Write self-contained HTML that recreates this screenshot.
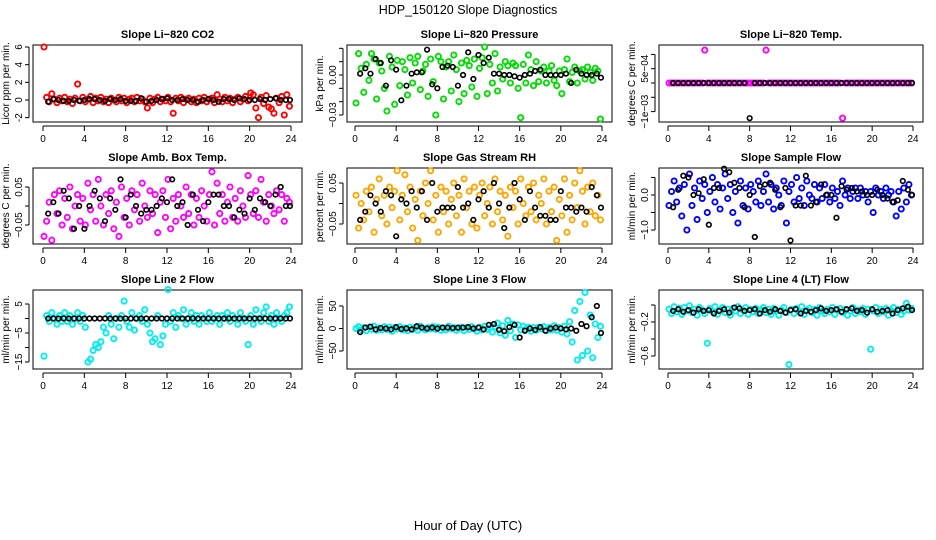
<!DOCTYPE html>
<html><head><meta charset="utf-8"><style>
html,body{margin:0;padding:0;background:#fff}
svg{display:block;font-family:"Liberation Sans",sans-serif}
</style></head><body>
<svg id="chart" width="936" height="540" viewBox="0 0 936 540">
<text x="468" y="14" text-anchor="middle" font-size="12.5">HDP_150120  Slope Diagnostics</text>
<text x="468" y="530" text-anchor="middle" font-size="13">Hour of Day (UTC)</text>
</svg>
<script>
const hoursC=[0.1,0.35,0.6,0.85,1.1,1.35,1.6,1.85,2.1,2.35,2.6,2.85,3.1,3.35,3.6,3.85,4.1,4.35,4.6,4.85,5.1,5.35,5.6,5.85,6.1,6.35,6.6,6.85,7.1,7.35,7.6,7.85,8.1,8.35,8.6,8.85,9.1,9.35,9.6,9.85,10.1,10.35,10.6,10.85,11.1,11.35,11.6,11.85,12.1,12.35,12.6,12.85,13.1,13.35,13.6,13.85,14.1,14.35,14.6,14.85,15.1,15.35,15.6,15.85,16.1,16.35,16.6,16.85,17.1,17.35,17.6,17.85,18.1,18.35,18.6,18.85,19.1,19.35,19.6,19.85,20.1,20.35,20.6,20.85,21.1,21.35,21.6,21.85,22.1,22.35,22.6,22.85,23.1,23.35,23.6,23.85];
const hoursK=[0.5,1,1.5,2,2.5,3,3.5,4,4.5,5,5.5,6,6.5,7,7.5,8,8.5,9,9.5,10,10.5,11,11.5,12,12.5,13,13.5,14,14.5,15,15.5,16,16.5,17,17.5,18,18.5,19,19.5,20,20.5,21,21.5,22,22.5,23,23.5,23.9];
const xTicks=[0,4,8,12,16,20,24];

const co2C=[6.0,0.3,-0.2,0.7,0.1,-0.3,0.2,-0.1,0.3,-0.2,0.1,-0.4,0.2,1.8,-0.1,0.3,-0.2,0.1,0.4,-0.3,0.2,-0.1,0.3,-0.2,0.1,-0.3,0.2,0.0,-0.2,0.3,-0.1,0.2,-0.3,0.1,0.2,-0.2,0.3,-0.1,0.1,-0.2,-0.9,0.2,-0.3,0.1,0.3,-0.2,0.1,-0.1,0.3,-0.2,-1.5,0.2,-0.1,0.3,-0.3,0.1,0.2,-0.2,0.1,-0.3,0.2,-0.1,0.3,-0.2,0.1,0.2,-0.3,0.6,0.1,-0.2,0.3,-0.1,0.2,-0.3,0.1,0.3,-0.2,0.1,0.4,-0.1,0.8,0.6,-0.9,-2.0,0.3,-0.4,0.5,-0.8,-1.0,-1.5,0.2,-0.3,0.4,-1.7,0.6,-0.7];
const co2K=[-0.2,0.1,0.0,-0.1,-0.1,0.0,-0.1,0.0,0.1,0.1,0.0,-0.1,0.1,0.0,0.1,-0.1,-0.1,-0.1,0.2,-0.2,-0.1,0.0,0.1,0.2,0.0,0.0,0.1,0.0,0.0,-0.2,0.0,0.1,0.0,-0.2,0.1,0.1,0.0,0.2,0.1,0.0,0.0,0.1,0.0,0.1,0.2,0.0,0.0,0.0];
const presC=[-0.021,0.016,0.005,-0.013,0.008,-0.004,0.016,0.012,-0.018,0.009,0.003,-0.01,-0.027,0.014,0.006,-0.022,0.011,-0.008,0.01,0.004,-0.015,0.013,-0.006,0.009,0.014,-0.011,0.003,0.008,-0.016,0.012,-0.005,-0.03,0.014,0.01,-0.018,0.006,0.01,-0.012,0.015,0.004,-0.02,0.009,-0.014,0.011,0.007,-0.009,0.012,-0.016,0.005,0.013,0.021,-0.014,0.008,-0.006,0.016,-0.012,0.006,-0.003,0.01,0.007,-0.006,0.009,0.007,-0.01,-0.032,0.008,-0.006,0.015,0.004,-0.008,0.01,-0.005,0.003,0.006,-0.006,0.003,0.007,-0.004,-0.008,0.003,-0.014,0.004,0.012,-0.005,0.002,0.006,-0.006,0.003,0.004,-0.003,0.006,0.002,-0.004,0.005,0.003,-0.033];
const presK=[0.001,0.005,0.001,0.012,0.009,-0.008,0.011,0.004,-0.019,-0.008,0.001,0.002,0.002,0.019,-0.007,-0.01,0.006,0.007,0.006,-0.008,0.0,0.017,-0.003,0.015,0.009,0.013,0.001,0.001,0.0,0.0,-0.001,-0.002,0.0,0.001,0.003,0.004,0.0,0.0,0.0,0.0,0.001,-0.006,0.004,0.001,0.0,0.0,0.001,-0.002];
const tempC=[0,0,0,0,0,0,0,0,0,0,0,0,0,0,0.00115,0,0,0,0,0,0,0,0,0,0,0,0,0,0,0,0,0,0,0,0,0,0,0,0.00115,0,0,0,0,0,0,0,0,0,0,0,0,0,0,0,0,0,0,0,0,0,0,0,0,0,0,0,0,0,-0.00123,0,0,0,0,0,0,0,0,0,0,0,0,0,0,0,0,0,0,0,0,0,0,0,0,0,0,0];
const tempK=[0,0,0,0,0,0,0,0,0,0,0,0,0,0,0,-0.00123,0,0,0,0,0,0,0,0,0,0,0,0,0,0,0,0,0,0,0,0,0,0,0,0,0,0,0,0,0,0,0,0];
const ambC=[-0.08,-0.04,0.01,-0.09,0.03,-0.02,0.04,-0.05,0.02,-0.03,0.05,-0.06,0.0,0.03,-0.04,0.02,-0.05,0.06,-0.01,0.03,-0.04,0.07,0.0,-0.05,0.03,-0.02,0.04,-0.06,0.01,-0.08,0.05,-0.03,0.02,-0.05,0.04,-0.01,0.03,-0.04,0.06,0.0,-0.03,0.04,-0.02,0.03,-0.07,0.01,0.04,-0.03,0.07,-0.06,0.02,-0.04,0.03,0.0,-0.03,0.05,-0.02,0.03,-0.05,0.02,-0.03,0.04,0.0,-0.04,0.03,0.09,-0.05,0.06,-0.02,0.03,-0.04,0.01,0.05,-0.03,0.02,-0.04,0.04,0.0,-0.03,0.08,0.03,-0.02,0.04,-0.03,0.07,0.01,-0.04,0.03,0.0,-0.02,0.04,-0.01,0.03,-0.04,0.02,0.01];
const ambK=[-0.02,0.01,-0.02,0.04,0.02,-0.06,0.0,-0.06,0.0,0.04,0.02,-0.04,0.02,-0.01,0.07,-0.03,0.03,0.0,-0.02,-0.01,-0.01,0.0,0.02,0.01,0.07,0.0,0.01,-0.05,0.03,-0.01,-0.04,0.01,0.03,0.03,0.0,0.0,-0.03,-0.01,-0.02,0.02,-0.01,0.02,0.01,0.0,0.03,0.05,0.0,0.0];
const rhC=[0.02,-0.06,0.0,-0.04,0.03,-0.02,0.04,-0.07,0.01,0.06,-0.03,0.02,-0.05,0.04,-0.01,0.03,0.08,-0.04,0.02,0.07,-0.02,0.04,-0.06,0.01,-0.09,0.03,-0.03,0.05,0.0,0.08,-0.04,0.02,-0.07,0.04,-0.02,0.03,-0.05,0.01,0.05,-0.03,0.02,-0.07,0.06,-0.01,0.03,-0.05,0.04,-0.06,0.02,0.05,-0.03,0.0,0.04,-0.05,0.06,-0.02,0.03,-0.04,0.02,-0.08,0.04,-0.01,0.03,-0.05,0.06,0.0,-0.03,0.04,-0.02,0.05,-0.04,0.02,0.0,0.06,-0.05,0.03,-0.02,0.04,-0.09,0.01,-0.03,0.06,-0.07,0.02,-0.04,0.05,-0.01,0.08,0.03,-0.05,0.04,-0.02,0.05,-0.03,0.02,-0.04];
const rhK=[-0.04,-0.02,0.02,0.0,-0.02,0.03,0.02,-0.08,0.01,0.0,0.03,-0.01,0.03,-0.04,0.05,-0.02,-0.01,-0.01,-0.01,0.04,-0.01,0.0,-0.04,0.01,0.03,-0.01,0.05,0.0,-0.06,-0.01,0.05,0.01,-0.04,0.03,-0.01,-0.03,-0.03,-0.04,-0.04,0.03,-0.01,-0.01,-0.02,-0.01,-0.02,0.04,0.02,-0.01];
const flowC=[-0.3,0.1,0.4,-0.2,0.2,-0.6,0.3,-1.0,0.6,-0.3,0.2,-0.7,0.4,-0.1,0.3,-0.5,0.1,0.5,-0.2,0.3,-0.4,0.2,0.6,-0.1,0.3,-0.5,0.1,-0.8,0.4,-0.3,0.2,-0.4,0.3,0.1,-0.2,0.4,-0.3,0.1,0.6,-0.2,0.3,-0.4,0.2,0.0,-0.3,0.4,-0.8,0.1,0.3,-0.2,0.5,-0.1,0.2,-0.3,0.4,0.0,-0.1,0.3,-0.2,0.2,-0.1,0.3,0.0,-0.2,0.2,-0.1,0.1,-0.3,0.4,0.0,0.2,-0.1,0.1,0.2,-0.1,0.2,0.0,0.1,-0.2,0.1,-0.5,0.2,0.0,0.1,-0.1,0.2,0.0,0.1,-0.2,-0.6,0.1,-0.4,0.2,-0.2,0.3,0.0];
const flowK=[-0.35,0.15,0.55,0.5,0.0,0.05,0.45,-0.85,0.2,0.2,0.75,0.65,0.35,0.2,-0.35,0.0,-1.2,0.25,0.3,0.35,0.15,-0.35,0.2,-1.3,-0.3,-0.3,0.55,-0.3,-0.2,0.3,0.0,0.0,-0.65,0.25,0.15,0.2,0.1,0.1,0.0,0.0,0.15,0.0,-0.1,-0.2,-0.15,0.4,0.15,0.0];
const l2C=[-13,1,-1,2,0,-2,1,-1,2,-1,1,-2,0,2,-1,1,-3,-15,-14,-11,-9,-10,-8,-3,-5,1,-2,-7,0,-3,1,6,-1,-3,2,-4,0,1,-1,3,-2,-5,-8,-7,1,-9,-6,-2,10,-1,2,-3,1,0,3,-2,0,2,-1,1,-2,1,0,-1,2,-1,0,1,-2,1,0,2,-1,1,0,-2,2,0,-1,-9,1,-2,3,0,-1,2,4,-1,1,-2,2,0,-1,1,2,4];
const l2K=[0,0,0,0,0,0,0,0,0,0,0,0,0,0,0,0,0,0,0,0,0,0,0,0,0,0,0,0,0,0,0,0,0,0,0,0,0,0,0,0,0,0,0,0,0,0,0,0];
const l3C=[0,4,-3,2,-5,3,-2,5,-4,1,-3,4,-2,3,-6,2,-1,4,-3,1,-5,3,-2,2,-4,5,0,-3,2,-1,4,-2,3,-4,1,-3,5,-1,2,-4,0,3,-5,2,-2,4,-1,-6,3,-3,5,-2,1,-8,4,12,-10,6,-15,18,-5,10,-20,8,-3,5,-2,3,-6,2,-4,3,-1,4,-5,2,-3,6,-4,2,-8,5,-12,15,-30,40,-70,60,-60,80,-50,30,-65,10,-20,5];
const l3K=[-8,2,4,-2,1,0,-2,3,-1,0,-2,5,2,0,2,0,2,2,1,2,2,3,0,2,-2,8,10,-3,-6,3,8,-20,-5,0,-3,3,-5,0,2,0,-2,0,-5,10,5,25,50,-10];
const l4C=[-0.05,-0.1,-0.02,-0.08,-0.04,-0.11,-0.03,-0.07,-0.01,-0.09,-0.05,-0.12,-0.03,-0.06,-0.1,-0.45,-0.04,-0.08,-0.02,-0.11,-0.06,-0.03,-0.09,-0.05,-0.12,-0.04,-0.07,-0.02,-0.1,-0.06,-0.03,-0.11,-0.05,-0.08,-0.04,-0.1,-0.06,-0.03,-0.09,-0.05,-0.11,-0.04,-0.07,-0.12,-0.06,-0.03,-0.09,-0.7,-0.05,-0.1,-0.04,-0.08,-0.02,-0.11,-0.06,-0.04,-0.09,-0.05,-0.12,-0.03,-0.07,-0.1,-0.05,-0.08,-0.03,-0.11,-0.06,-0.04,-0.09,-0.05,-0.12,-0.07,-0.03,-0.1,-0.06,-0.08,-0.04,-0.11,-0.05,-0.52,-0.07,-0.03,-0.1,-0.05,-0.08,-0.04,-0.12,-0.06,-0.03,-0.09,-0.05,-0.11,-0.07,0.02,-0.06,-0.04];
const l4K=[-0.07,-0.05,-0.08,-0.06,-0.09,-0.05,-0.07,-0.06,-0.1,-0.07,-0.05,-0.09,-0.03,-0.04,-0.07,-0.06,-0.05,-0.1,-0.06,-0.08,-0.05,-0.07,-0.09,-0.06,-0.05,-0.1,-0.07,-0.08,-0.06,-0.04,-0.07,-0.06,-0.05,-0.08,-0.05,-0.04,-0.07,-0.06,-0.09,-0.05,-0.08,-0.07,-0.06,-0.1,-0.06,-0.04,-0.02,-0.06];

const yTickCO2=[-2,0,2,4,6], yLabCO2=["-2","0","2","4","6"];
const yTickPres=[-0.03,-0.02,-0.01,0,0.01,0.02], yLabPres=["−0.03","","","0.00","",""];
const yTickTemp=[-0.001,-0.0005,0,0.0005,0.001], yLabTemp=["−1e−03","","","5e−04",""];
const yTickAmb=[-0.05,0,0.05], yLabAmb=["−0.05","","0.05"];
const yTickRH=[-0.05,0,0.05], yLabRH=["−0.05","","0.05"];
const yTickFlow=[-1,-0.5,0,0.5], yLabFlow=["−1.0","","0.0",""];
const yTickL2=[-15,-10,-5,0,5], yLabL2=["−15","","−5","","5"];
const yTickL3=[-50,0,50], yLabL3=["−50","0","50"];
const yTickL4=[-0.6,-0.4,-0.2,0], yLabL4=["−0.6","","−0.2",""];

const NS="http://www.w3.org/2000/svg";
const svg=document.getElementById('chart');
function mk(tag,attrs,parent){const e=document.createElementNS(NS,tag);for(const k in attrs)e.setAttribute(k,attrs[k]);(parent||svg).appendChild(e);return e;}

const cols=[{l:33,r:302,x0:43,x24:291},{l:347,r:612,x0:355,x24:602},{l:659,r:923,x0:668,x24:913}];
const rows=[{t:45,b:122,ty:34},{t:168,b:244,ty:157},{t:290,b:369,ty:279}];
const panels=[
 {name:'co2',title:'Slope Li−820 CO2',ylab:'Licor ppm per min.',c:0,r:0,v1:0,p1:100,v2:6,p2:47,ticks:yTickCO2,labs:yLabCO2,col:'#ff0000',vc:co2C,vk:co2K},
 {name:'pressure',title:'Slope Li−820 Pressure',ylab:'kPa per min.',c:1,r:0,v1:0,p1:75,v2:-0.03,p2:115,ticks:yTickPres,labs:yLabPres,col:'#00dd00',vc:presC,vk:presK},
 {name:'li820-temp',title:'Slope Li−820 Temp.',ylab:'degrees C per min.',c:2,r:0,v1:0,p1:83,v2:0.0005,p2:68.7,ticks:yTickTemp,labs:yLabTemp,col:'#ff00ff',vc:tempC,vk:tempK},
 {name:'amb-box-temp',title:'Slope Amb. Box Temp.',ylab:'degrees C per min.',c:0,r:1,v1:0,p1:206,v2:0.05,p2:187,ticks:yTickAmb,labs:yLabAmb,col:'#ff00ff',vc:ambC,vk:ambK},
 {name:'gas-stream-rh',title:'Slope Gas Stream RH',ylab:'percent per min.',c:1,r:1,v1:0,p1:203.5,v2:0.05,p2:183,ticks:yTickRH,labs:yLabRH,col:'#ffa500',vc:rhC,vk:rhK},
 {name:'sample-flow',title:'Slope Sample Flow',ylab:'ml/min per min.',c:2,r:1,v1:0,p1:195,v2:-1,p2:230,ticks:yTickFlow,labs:yLabFlow,col:'#0000ff',vc:flowC,vk:flowK},
 {name:'line2-flow',title:'Slope Line 2 Flow',ylab:'ml/min per min.',c:0,r:2,v1:5,p1:304,v2:-5,p2:333,ticks:yTickL2,labs:yLabL2,col:'#00eeee',vc:l2C,vk:l2K},
 {name:'line3-flow',title:'Slope Line 3 Flow',ylab:'ml/min per min.',c:1,r:2,v1:50,p1:306,v2:-50,p2:351,ticks:yTickL3,labs:yLabL3,col:'#00eeee',vc:l3C,vk:l3K},
 {name:'line4-flow',title:'Slope Line 4 (LT) Flow',ylab:'ml/min per min.',c:2,r:2,v1:-0.2,p1:322,v2:-0.6,p2:356,ticks:yTickL4,labs:yLabL4,col:'#00eeee',vc:l4C,vk:l4K}
];

panels.forEach(p=>{
 const C=cols[p.c],R=rows[p.r];
 const xs=h=>C.x0+(C.x24-C.x0)*h/24;
 const ys=v=>p.p1+(v-p.v1)*(p.p2-p.p1)/(p.v2-p.v1);
 const g=mk('g',{});
 
 
 const t=mk('text',{x:(C.l+C.r)/2,y:R.ty+4,'text-anchor':'middle','font-size':11,'font-weight':'bold'},g);
 t.textContent=p.title;
 
 
 const box=mk('rect',{x:C.l,y:R.t,width:C.r-C.l,height:R.b-R.t,fill:'none',stroke:'#000','stroke-width':1},g);
 
 
 const xa=mk('g',{},g);
 
 
 mk('line',{x1:xs(0),x2:xs(24),y1:R.b+4,y2:R.b+4,stroke:'#000'},xa);
 xTicks.forEach(v=>{
  mk('line',{x1:xs(v),x2:xs(v),y1:R.b+4,y2:R.b+9,stroke:'#000'},xa);
  const tl=mk('text',{x:xs(v),y:R.b+20,'text-anchor':'middle','font-size':10},xa);
  tl.textContent=v;
  
  
 });
 const ya=mk('g',{},g);
 
 
 const ax=C.l-4;
 mk('line',{x1:ax,x2:ax,y1:ys(p.ticks[0]),y2:ys(p.ticks[p.ticks.length-1]),stroke:'#000'},ya);
 p.ticks.forEach((v,i)=>{
  const y=ys(v);
  mk('line',{x1:ax-4,x2:ax,y1:y,y2:y,stroke:'#000'},ya);
  if(p.labs[i]){
   const tl=mk('text',{x:ax-7,y:y,'text-anchor':'middle','font-size':10,transform:`rotate(-90 ${ax-7} ${y})`},ya);
   tl.textContent=p.labs[i];
   
   
  }
 });
 const yl=mk('text',{x:C.l-24,y:(R.t+R.b)/2,'text-anchor':'middle','font-size':10,transform:`rotate(-90 ${C.l-24} ${(R.t+R.b)/2})`},g);
 yl.textContent=p.ylab;
 
 
 const n=Math.min(hoursC.length,p.vc.length);
 for(let i=0;i<n;i++){
  const c=mk('circle',{cx:xs(hoursC[i]),cy:ys(p.vc[i]),r:2.6,fill:'none',stroke:p.col,'stroke-width':1.9},g);
  
  
 }
 const m=Math.min(hoursK.length,p.vk.length);
 for(let i=0;i<m;i++){
  const c=mk('circle',{cx:xs(hoursK[i]),cy:ys(p.vk[i]),r:2.3,fill:'none',stroke:'#000','stroke-width':1.6},g);
  
  
 }
});
</script>
</body></html>
